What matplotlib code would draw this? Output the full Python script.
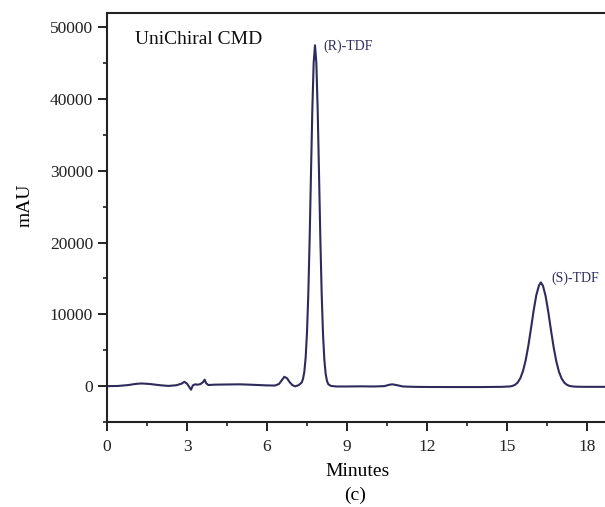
import matplotlib
matplotlib.use("Agg")
import matplotlib.pyplot as plt
from matplotlib.ticker import MultipleLocator

# Chromatogram: retention time (min) and signal (mAU)
time_min = [0.0, 0.4, 0.8, 1.1, 1.3, 1.6, 2.0, 2.3, 2.6, 2.8, 2.9, 3.0, 3.08, 3.15,
            3.22, 3.3, 3.4, 3.5, 3.6, 3.66, 3.72, 3.8, 4.0, 4.5, 5.0, 5.5, 6.0, 6.3,
            6.45, 6.55, 6.65, 6.75, 6.85, 6.95, 7.05, 7.15,
            7.20, 7.30, 7.35, 7.40, 7.45, 7.50, 7.55, 7.60, 7.65, 7.70, 7.75, 7.80,
            7.85, 7.90, 7.95, 8.00, 8.05, 8.10, 8.15, 8.20, 8.25, 8.30, 8.40, 8.6,
            9.0, 9.5, 10.0, 10.4, 10.6, 10.7, 10.85, 11.1, 11.5, 12.0, 13.0, 14.0,
            14.8, 15.0, 15.1, 15.2, 15.3, 15.4, 15.5, 15.6, 15.7, 15.8, 15.9, 16.0,
            16.1, 16.2, 16.27, 16.35, 16.45, 16.55, 16.65, 16.75, 16.85, 16.95,
            17.05, 17.15, 17.25, 17.35, 17.5, 17.7, 18.0, 18.7]
signal_mau = [0, 20, 150, 320, 370, 300, 120, 30, 120, 350, 600, 350, -100, -500,
              100, 250, 200, 280, 550, 900, 400, 150, 200, 230, 250, 180, 100, 80,
              300, 800, 1300, 1100, 550, 150, -30, 80,
              180, 500, 1000, 2000, 4000, 7500, 13000, 20650, 29720, 38580, 45080, 47500,
              45080, 38580, 29720, 20650, 12920, 7280, 3700, 1700, 700, 260, 30, -50,
              -50, -30, -50, 0, 200, 250, 150, -50, -100, -120, -130, -130,
              -100, -60, -50, 20, 180, 500, 1100, 2100, 3600, 5620, 8040, 10550,
              12700, 14050, 14450, 13970, 12510, 10300, 7780, 5400, 3430, 1980,
              1050, 480, 180, 20, -60, -90, -100, -100]

x_ticks = [0, 3, 6, 9, 12, 15, 18]
y_ticks = [0, 10000, 20000, 30000, 40000, 50000]
peak_labels = ["(R)-TDF", "(S)-TDF"]
peak_label_pos = [(8.10, 47400), (16.68, 15050)]

plt.rcParams['font.family'] = ['Liberation Serif', 'DejaVu Serif']

fig = plt.figure(figsize=(6.05, 5.07), dpi=100)
ax = fig.add_axes([107/605, 1 - 422/507, 498/605, 409/507])

ax.plot(time_min, signal_mau, color='#2e2a5c', lw=1.5)

ax.set_xlim(0, 18.675)
ax.set_ylim(-5000, 52000)
ax.set_xticks(x_ticks)
ax.set_yticks(y_ticks)
ax.xaxis.set_minor_locator(MultipleLocator(1.5))
ax.yaxis.set_minor_locator(MultipleLocator(5000))

for s in ['left', 'bottom', 'top']:
    ax.spines[s].set_linewidth(1.5)
    ax.spines[s].set_color('#222222')
ax.spines['right'].set_visible(False)

ax.tick_params(which='major', direction='out', length=6.5, width=1.4, labelsize=12.5,
               colors='#222222', pad=3.5)
ax.tick_params(which='minor', direction='out', length=3, width=1.2, colors='#222222')
ax.tick_params(top=False, right=False, which='both')
ax.tick_params(axis='x', pad=5.5)

for lab, (tx, ty) in zip(peak_labels, peak_label_pos):
    ax.text(tx, ty, lab, fontsize=10, color='#2e2a5c', ha='left', va='center')

ax.text(135/605, 1 - 40/507, "UniChiral CMD", transform=fig.transFigure,
        fontsize=14, ha='left', va='center', color='#111111')

fig.text(25/605, 1 - 205/507, "mAU", rotation=90, fontsize=14, ha='center', va='center')
fig.text(358/605, 1 - 472/507, "Minutes", fontsize=14, ha='center', va='center')
fig.text(355/605, 1 - 495/507, "(c)", fontsize=14, ha='center', va='center')

fig.savefig("out.png", dpi=100)
